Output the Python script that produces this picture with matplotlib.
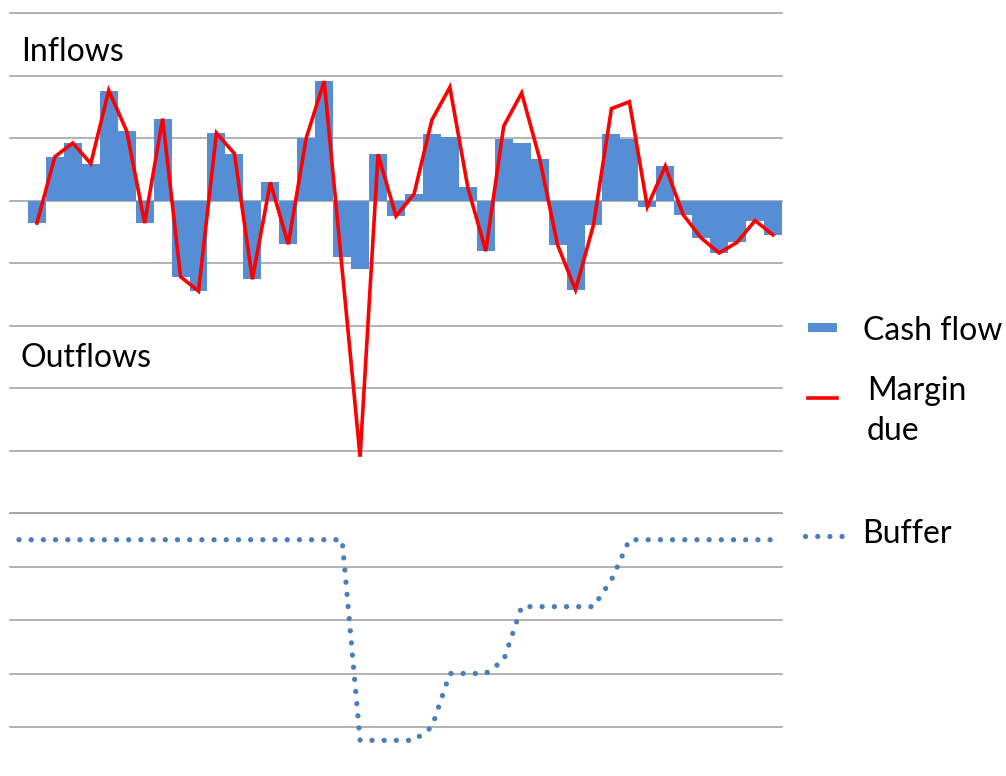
import matplotlib
matplotlib.use("Agg")
import matplotlib.pyplot as plt
from matplotlib.lines import Line2D
from matplotlib.patches import Rectangle
import numpy as np

plt.rcParams['font.family'] = ['Lato', 'DejaVu Sans']

W, H = 1006, 776

# cash flow per period (periods 1..42), margin due, buffer (periods 0..42)
cash_flow = [-0.36, 0.70, 0.92, 0.59, 1.76, 1.11, -0.36, 1.31, -1.22, -1.45,
             1.08, 0.75, -1.26, 0.29, -0.70, 1.00, 1.91, -0.91, -1.09, 0.74,
             -0.25, 0.10, 1.07, 1.01, 0.21, -0.81, 0.99, 0.92, 0.67, -0.71,
             -1.43, -0.39, 1.06, 0.98, -0.10, 0.55, -0.23, -0.60, -0.84, -0.67,
             -0.32, -0.55]
margin_due = [-0.36, 0.70, 0.92, 0.59, 1.76, 1.11, -0.36, 1.31, -1.22, -1.45,
              1.08, 0.75, -1.26, 0.29, -0.70, 1.00, 1.91, -1.10, -4.10, 0.74,
              -0.25, 0.10, 1.29, 1.81, 0.21, -0.81, 1.19, 1.72, 0.67, -0.71,
              -1.43, -0.39, 1.47, 1.58, -0.10, 0.55, -0.23, -0.60, -0.84, -0.67,
              -0.32, -0.55]
buffer = [3.5] * 19 + [-0.25, -0.25, -0.25, -0.25, 0.0, 1.0, 1.0, 1.0, 1.25,
                       2.25, 2.25, 2.25, 2.25, 2.25, 2.75] + [3.5] * 9

top_grid = [3, 2, 1, 0, -1, -2, -3, -4, -5]
bot_grid = [4, 3, 2, 1, 0]

BAR_COL = '#558ed5'
RED = '#ff0000'
BUF_COL = '#4a7ebb'
GRID = '#a6a6a6'
FS = 23

def fx(px):
    return px / W

def fy(py):
    return 1 - py / H

fig = plt.figure(figsize=(W / 100, H / 100), dpi=100)

# upper chart
ax1 = fig.add_axes([fx(10), fy(513), fx(782) - fx(10), fy(13) - fy(513)])
ax1.set_xlim(-0.5, 42.5)
ax1.set_ylim(-5, 3)
for g in top_grid:
    ax1.axhline(g, color=GRID, lw=1.2, zorder=0, clip_on=False)
xb = np.arange(1, 43)
ax1.bar(xb, cash_flow, width=1.0, color=BAR_COL, zorder=2, linewidth=0)
ax1.plot(xb, margin_due, color=RED, lw=2.6, zorder=3, solid_joinstyle='miter')
ax1.axis('off')

# lower chart
ax2 = fig.add_axes([fx(10), 0, fx(782) - fx(10), fy(513)])
ax2.set_xlim(-0.5, 42.5)
ax2.set_ylim(-(776 - 727) / 53.5, 4)
for g in bot_grid:
    ax2.axhline(g, color=GRID, lw=1.2, zorder=0, clip_on=False)
xl = np.arange(0, 43)
ax2.plot(xl, buffer, color=BUF_COL, lw=3.8, linestyle=(0, (0.01, 2.3)),
         dash_capstyle='round', zorder=2)
ax2.axis('off')

# labels
fig.text(fx(21), fy(61), 'Inflows', fontsize=FS, va='baseline', ha='left')
fig.text(fx(21), fy(367), 'Outflows', fontsize=FS, va='baseline', ha='left')

# legend
fig.add_artist(Rectangle((fx(808), fy(332)), fx(29), fy(323) - fy(332),
                         transform=fig.transFigure, color=BAR_COL, lw=0))
fig.text(fx(863), fy(340), 'Cash flow', fontsize=FS, va='baseline', ha='left')
fig.add_artist(Line2D([fx(808), fx(837)], [fy(398), fy(398)],
                      transform=fig.transFigure, color=RED, lw=2.6))
fig.text(fx(867), fy(400), 'Margin', fontsize=FS, va='baseline', ha='left')
fig.text(fx(867), fy(440), 'due', fontsize=FS, va='baseline', ha='left')
fig.add_artist(Line2D([fx(805), fx(842)], [fy(536), fy(536)],
                      transform=fig.transFigure, color=BUF_COL, lw=3.8,
                      linestyle=(0, (0.01, 2.3)), dash_capstyle='round'))
fig.text(fx(862), fy(543), 'Buffer', fontsize=FS, va='baseline', ha='left')

fig.savefig('out.png', dpi=100, facecolor='white')
